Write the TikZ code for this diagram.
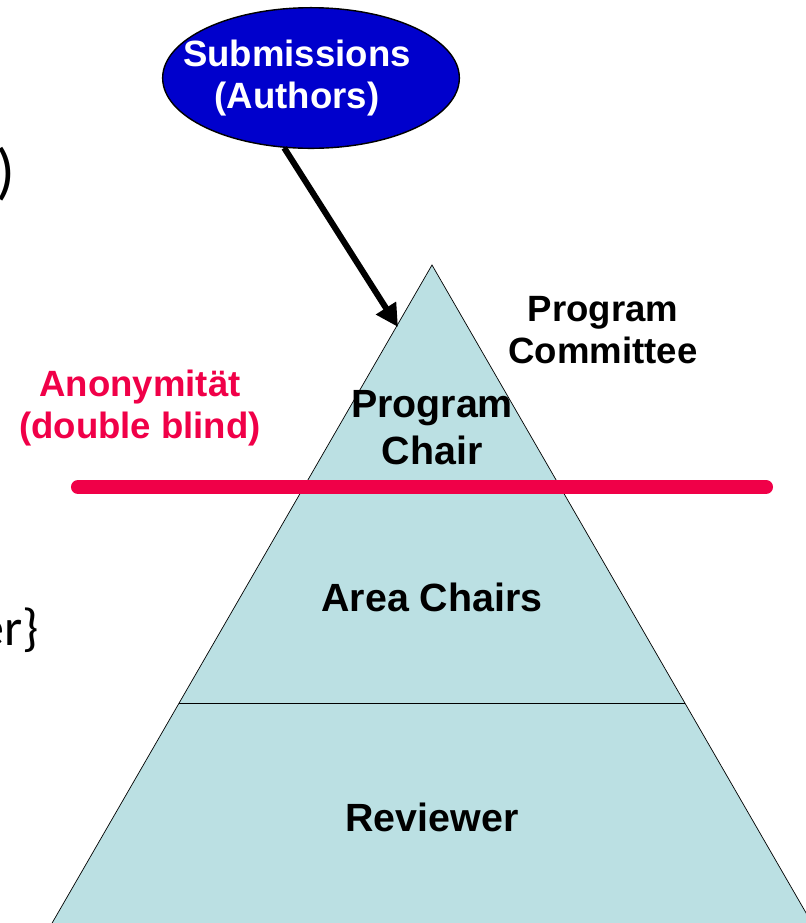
\documentclass[tikz,border=0pt]{standalone}
\usepackage{fontspec}
\setmainfont{Liberation Sans}
\newfontfamily\slidefont{Carlito}
\usepackage{tikz}
\usetikzlibrary{shapes.geometric, arrows.meta}
\usepackage{color}

\definecolor{pyramid}{RGB}{187,224,227}
\definecolor{anonred}{RGB}{240,0,72}
\definecolor{subblue}{RGB}{0,0,204}

\begin{document}
\begin{tikzpicture}[x=0.025cm, y=-0.025cm, line width=0.5pt,
    lbl/.style={align=center, font=\bfseries\fontsize{26pt}{30pt}\selectfont, inner sep=0pt},
    level/.style={align=center, font=\bfseries\fontsize{28pt}{33.5pt}\selectfont, inner sep=0pt},
    cut/.style={font=\slidefont\fontsize{44pt}{48pt}\selectfont, inner sep=0pt, anchor=east}]
  \useasboundingbox (0, 0) rectangle (805, 923);

  % pyramid
  \coordinate (top) at (432, 265);
  \coordinate (bl) at (40, 944);
  \coordinate (br) at (824, 944);
  \filldraw[fill=pyramid, draw=black] (top) -- (bl) -- (br) -- cycle;
  \draw (303.8, 487) -- (560.2, 487);
  \draw (179.1, 703) -- (684.9, 703);

  \node[level] (chair) at (432, 428) {Program\\Chair};
  \node[level] (area) at (432, 597) {Area Chairs};
  \node[level] (rev) at (432, 817) {Reviewer};
  \node[lbl] (pc) at (603, 330) {Program\\Committee};

  % anonymity line
  \draw[anonred, line width=10pt, line cap=round] (78, 487) -- (766, 487);
  \node[lbl, text=anonred] (anon) at (140, 408) {Anonymität\\(double blind)};

  % submissions
  \node[lbl, ellipse, draw=black, line width=1pt, fill=subblue, text=white,
        inner xsep=-8pt, inner ysep=0pt, minimum width=211pt, minimum height=100pt] (sub) at (311, 78)
        {\hspace*{-20pt}Submissions\\\hspace*{-20pt}(Authors)};
  \coordinate (entry) at (398, 327);
  \draw[-{Triangle[length=16pt, width=16pt]}, line width=4.3pt] (sub.-111) -- (entry);

  % cut-off text at the left margin
  \node[cut] (paren) at (16, 174) {)};
  \node[cut, font=\slidefont\fontsize{37pt}{40pt}\selectfont] (brace) at (39, 630) {er\}};
\end{tikzpicture}
\end{document}
